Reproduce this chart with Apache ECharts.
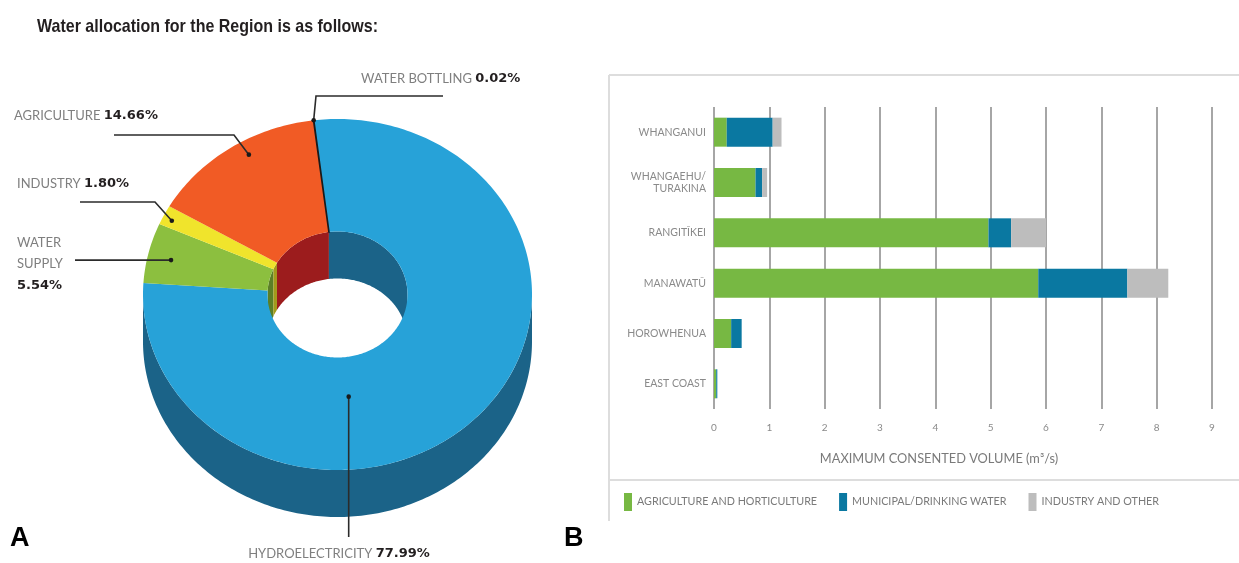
<!DOCTYPE html>
<html>
<head>
<meta charset="utf-8">
<script src="https://cdn.jsdelivr.net/npm/echarts@6/dist/echarts.min.js"></script>
<style>
  html, body { margin: 0; padding: 0; background: #ffffff; }
  #chart { width: 1239px; height: 563px; }
</style>
</head>
<body>
<div id="chart"></div>
<script>
// Regional water allocation by use (percent of total)
const useNames = ['HYDROELECTRICITY', 'WATER SUPPLY', 'INDUSTRY', 'AGRICULTURE', 'WATER BOTTLING'];
const useShares = [77.99, 5.54, 1.80, 14.66, 0.02];

// Maximum consented volume by catchment (m³/s)
const catchments = ['WHANGANUI', 'WHANGAEHU/\nTURAKINA', 'RANGITĪKEI', 'MANAWATŪ', 'HOROWHENUA', 'EAST COAST'];
const agriHort = [0.23, 0.75, 4.96, 5.86, 0.31, 0.04];
const municipal = [0.83, 0.12, 0.41, 1.61, 0.19, 0.02];
const industryOther = [0.16, 0.09, 0.63, 0.74, 0, 0];
const volumeTicks = [0, 1, 2, 3, 4, 5, 6, 7, 8, 9];
const useGroups = ['AGRICULTURE AND HORTICULTURE', 'MUNICIPAL/DRINKING WATER', 'INDUSTRY AND OTHER'];

const headline = 'Water allocation for the Region is as follows:';

// Tilted donut geometry (top face ellipse, hole ellipse, wall depth)
const donut = { cx: 337.5, cy: 294.5, rx: 194.5, ry: 175.5, irx: 70, iry: 63, depth: 47, start: -97 };
const topColors = ['#27a2d8', '#8cbf3f', '#f0e42c', '#f15b25', '#1a1a1a'];
const wallColors = ['#1b6388', '#5b7f27', '#a39a1a', '#9c1c1d', '#111111'];

// Callout placement: anchor at fraction t of the slice sweep and normalised radius r,
// then the leader path (null = keep previous coordinate) and the text position.
const callouts = [
  { t: 0.646, r: 0.585, path: [[null, 537]], text: [339, 554], align: 'center' },
  { t: 0.46, r: 0.878, path: [[75, null]], text: [17, 264], align: 'left', wrap: true },
  { t: 0.40, r: 0.95, path: [[155, 202], [80, 202]], text: [17, 184], align: 'left' },
  { t: 0.57, r: 0.918, path: [[234, 135], [114, 135]], text: [14, 116], align: 'left' },
  { t: 0.50, r: 1.0, path: [[316, 96], [443, 96]], text: [361, 79], align: 'left' }
];

const total = useShares.reduce((a, b) => a + b, 0);
const sweeps = [];
let acc = donut.start;
useShares.forEach(v => { const a0 = acc; acc += v / total * 360; sweeps.push([a0, acc]); });

function onEllipse(rx, ry, deg, dy) {
  const t = deg * Math.PI / 180;
  return [donut.cx + rx * Math.cos(t), donut.cy + ry * Math.sin(t) + (dy || 0)];
}
function arc(rx, ry, a0, a1, dy) {
  const n = Math.max(2, Math.ceil(Math.abs(a1 - a0)) + 1);
  const pts = [];
  for (let k = 0; k < n; k++) pts.push(onEllipse(rx, ry, a0 + (a1 - a0) * k / (n - 1), dy));
  return pts;
}
function wall(rx, ry, a0, a1) {
  return arc(rx, ry, a0, a1, 0).concat(arc(rx, ry, a1, a0, donut.depth));
}
function overlap(a0, a1, lo, hi) {
  const s = Math.max(a0, lo), e = Math.min(a1, hi);
  return e > s ? [s, e] : null;
}

function renderSlice(params, api) {
  const i = params.dataIndex;
  const [a0, a1] = sweeps[i];
  const kids = [];
  // front outer wall (lower half of the rim)
  [[0, 180]].forEach(r => {
    const o = overlap(a0, a1, r[0], r[1]);
    if (o) kids.push({ type: 'polygon', z2: 1, shape: { points: wall(donut.rx, donut.ry, o[0], o[1]) }, style: { fill: wallColors[i] } });
  });
  // back inner wall seen through the hole (upper half)
  [[-180, 0], [180, 360]].forEach(r => {
    const o = overlap(a0, a1, r[0], r[1]);
    if (o) kids.push({ type: 'polygon', z2: 2, shape: { points: wall(donut.irx, donut.iry, o[0], o[1]) }, style: { fill: wallColors[i] } });
  });
  // top face
  const face = arc(donut.rx, donut.ry, a0, a1, 0).concat(arc(donut.irx, donut.iry, a1, a0, 0));
  const thin = useShares[i] / total < 0.002;
  kids.push({
    type: 'polygon', z2: 5, shape: { points: face },
    style: thin ? { fill: topColors[i], stroke: topColors[i], lineWidth: 1.6 } : { fill: topColors[i] }
  });
  // callout
  const c = callouts[i];
  const ang = a0 + (a1 - a0) * c.t;
  const anchor = onEllipse(donut.rx * c.r, donut.ry * c.r, ang, 0);
  const pts = [anchor];
  c.path.forEach(p => {
    const prev = pts[pts.length - 1];
    pts.push([p[0] == null ? prev[0] : p[0], p[1] == null ? prev[1] : p[1]]);
  });
  kids.push({ type: 'polyline', z2: 10, shape: { points: pts }, style: { stroke: '#2b2b2b', lineWidth: 1.6, fill: null } });
  kids.push({ type: 'circle', z2: 11, shape: { cx: anchor[0], cy: anchor[1], r: 2.3 }, style: { fill: '#1a1a1a' } });
  const pct = useShares[i].toFixed(2) + '%';
  const label = c.wrap
    ? useNames[i].split(' ').map(w => '{n|' + w + '}').join('\n') + '\n{p|' + pct + '}'
    : '{n|' + useNames[i] + '} {p|' + pct + '}';
  kids.push({
    type: 'text', z2: 12,
    style: {
      x: c.text[0], y: c.text[1], text: label, align: c.align, verticalAlign: 'middle',
      rich: {
        n: { fontFamily: 'Lato', fontSize: 13, fill: '#7f7f7f', lineHeight: 21.5 },
        p: { fontFamily: 'DejaVu Sans', fontWeight: 'bold', fontSize: 13, fill: '#231f20', lineHeight: 21.5 }
      }
    }
  });
  return { type: 'group', children: kids };
}

// Headline is set in a heavy face, narrowed to a condensed width
const headFont = 'bold 18.5px "Liberation Sans", Arial, sans-serif';
const ctx = document.createElement('canvas').getContext('2d');
ctx.font = headFont;
const headScale = 341 / ctx.measureText(headline).width;

const chart = echarts.init(document.getElementById('chart'), null, { renderer: 'canvas' });
const frame = { stroke: '#dddddd', lineWidth: 2 };
chart.setOption({
  animation: false,
  backgroundColor: '#ffffff',
  title: [
    { text: 'A', left: 10, top: 525, padding: 0,
      textStyle: { fontFamily: 'Liberation Sans, Arial, sans-serif', fontWeight: 'bold', fontSize: 27, color: '#000000' } },
    { text: 'B', left: 564, top: 525, padding: 0,
      textStyle: { fontFamily: 'Liberation Sans, Arial, sans-serif', fontWeight: 'bold', fontSize: 27, color: '#000000' } }
  ],
  graphic: [
    { type: 'text', silent: true, x: 37, y: 27, scaleX: headScale,
      style: { text: headline, font: headFont, fill: '#231f20', verticalAlign: 'middle', align: 'left' } },
    { type: 'line', silent: true, shape: { x1: 609, y1: 75, x2: 1239, y2: 75 }, style: frame },
    { type: 'line', silent: true, shape: { x1: 609, y1: 75, x2: 609, y2: 521 }, style: frame },
    { type: 'line', silent: true, shape: { x1: 609, y1: 480, x2: 1239, y2: 480 }, style: frame }
  ],
  legend: {
    data: useGroups, left: 624, top: 493, padding: 0, icon: 'rect',
    itemWidth: 8, itemHeight: 18, itemGap: 22,
    textStyle: { fontFamily: 'Lato', fontSize: 10.75, color: '#7a7a7a' }
  },
  grid: { left: 714, right: 27, top: 107, height: 302 },
  xAxis: {
    type: 'value',
    min: volumeTicks[0], max: volumeTicks[volumeTicks.length - 1], interval: volumeTicks[1] - volumeTicks[0],
    axisLine: { show: false }, axisTick: { show: false },
    splitLine: { show: true, lineStyle: { color: '#a6a6a6', width: 2 } },
    axisLabel: { color: '#8a8a8a', fontFamily: 'Lato', fontSize: 10, margin: 14 },
    name: 'MAXIMUM CONSENTED VOLUME (m³/s)', nameLocation: 'middle', nameGap: 43,
    nameTextStyle: { fontFamily: 'Lato', fontSize: 12.8, color: '#7a7a7a', padding: [0, 48, 0, 0] }
  },
  yAxis: {
    type: 'category', inverse: true, data: catchments,
    axisLine: { show: false }, axisTick: { show: false },
    axisLabel: { color: '#8a8a8a', fontFamily: 'Lato', fontSize: 10.5, lineHeight: 11.5, margin: 8, align: 'right' }
  },
  series: [
    { name: useGroups[0], type: 'bar', stack: 'vol', barWidth: 29, data: agriHort, itemStyle: { color: '#77b843' } },
    { name: useGroups[1], type: 'bar', stack: 'vol', barWidth: 29, data: municipal, itemStyle: { color: '#0a78a1' } },
    { name: useGroups[2], type: 'bar', stack: 'vol', barWidth: 29, data: industryOther, itemStyle: { color: '#bdbdbd' } },
    {
      type: 'custom', coordinateSystem: 'none', silent: true,
      data: useNames.map((n, k) => ({ name: n, value: useShares[k] })),
      renderItem: renderSlice
    }
  ]
});
</script>
</body>
</html>
